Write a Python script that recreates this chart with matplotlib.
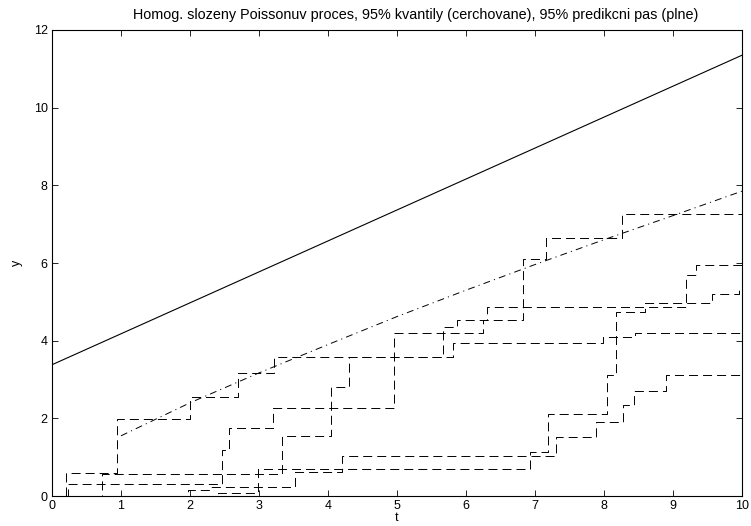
import matplotlib
matplotlib.use("Agg")
import matplotlib.pyplot as plt

plt.rcParams['font.family'] = ['Liberation Sans', 'DejaVu Sans']
plt.rcParams['font.size'] = 9
plt.rcParams['lines.scale_dashes'] = False

# Trajektorie (okamziky skoku a hodnoty po skoku)
t1 = [0, 0.2, 0.94, 2.0, 2.7, 3.22, 5.67, 5.87, 6.3, 9.19, 9.34]
y1 = [0, 0.58, 1.98, 2.56, 3.16, 3.59, 4.36, 4.53, 4.87, 5.69, 5.95]
t2 = [0, 0.23, 2.46, 2.56, 3.2, 4.96, 6.25, 6.83, 7.16, 8.26]
y2 = [0, 0.31, 1.18, 1.76, 2.26, 4.19, 4.53, 6.1, 6.64, 7.27]
t3 = [0, 2.4, 2.99, 6.93, 7.19, 8.05, 8.17, 8.6, 9.56, 9.95]
y3 = [0, 0.07, 0.69, 1.14, 2.1, 3.12, 4.75, 4.98, 5.19, 5.36]
t4 = [0, 0.72, 3.33, 4.05, 4.31, 5.81, 7.99, 8.45]
y4 = [0, 0.56, 1.55, 2.8, 3.59, 3.93, 4.1, 4.19]
t5 = [0, 1.97, 2.29, 3.52, 4.2, 7.3, 7.89, 8.27, 8.43, 8.9]
y5 = [0, 0.15, 0.22, 0.62, 1.03, 1.53, 1.91, 2.34, 2.7, 3.12]
trajektorie = [(t1, y1), (t2, y2), (t3, y3), (t4, y4), (t5, y5)]
t_konec = 10

# 95% kvantily (cerchovane)
t_kv = [1, 2, 3, 4, 5, 6, 7, 8, 9, 10]
y_kv = [1.55, 2.4, 3.17, 3.9, 4.62, 5.3, 5.96, 6.6, 7.22, 7.85]

# 95% predikcni pas (plne)
t_pas = [0, 10]
y_pas = [3.38, 11.35]

fig = plt.figure(figsize=(7.51, 5.26), dpi=100)
ax = fig.add_axes([0.0692, 0.057, 0.9188, 0.886])

for tt, yy in trajektorie:
    ax.plot(tt + [t_konec], yy + [yy[-1]], drawstyle='steps-post', color='black',
            lw=0.7, linestyle=(0, (6.5, 3.6)))

ax.plot(t_kv, y_kv, color='black', lw=0.7, linestyle=(0, (5, 3, 0.8, 3)))
ax.plot(t_pas, y_pas, color='black', lw=0.8)

ax.set_xlim(0, 10)
ax.set_ylim(0, 12)
ax.set_xticks(range(0, 11))
ax.set_yticks(range(0, 13, 2))
ax.tick_params(direction='in', top=True, right=True, length=4.5, width=0.6, pad=3)
for s in ax.spines.values():
    s.set_linewidth(0.8)
ax.set_xlabel('t', labelpad=0)
ax.set_ylabel('y', labelpad=8)
ax.set_title('Homog. slozeny Poissonuv proces, 95% kvantily (cerchovane), 95% predikcni pas (plne)',
             fontsize=10.4, pad=8, x=0.527)

fig.savefig('out.png', dpi=100)
